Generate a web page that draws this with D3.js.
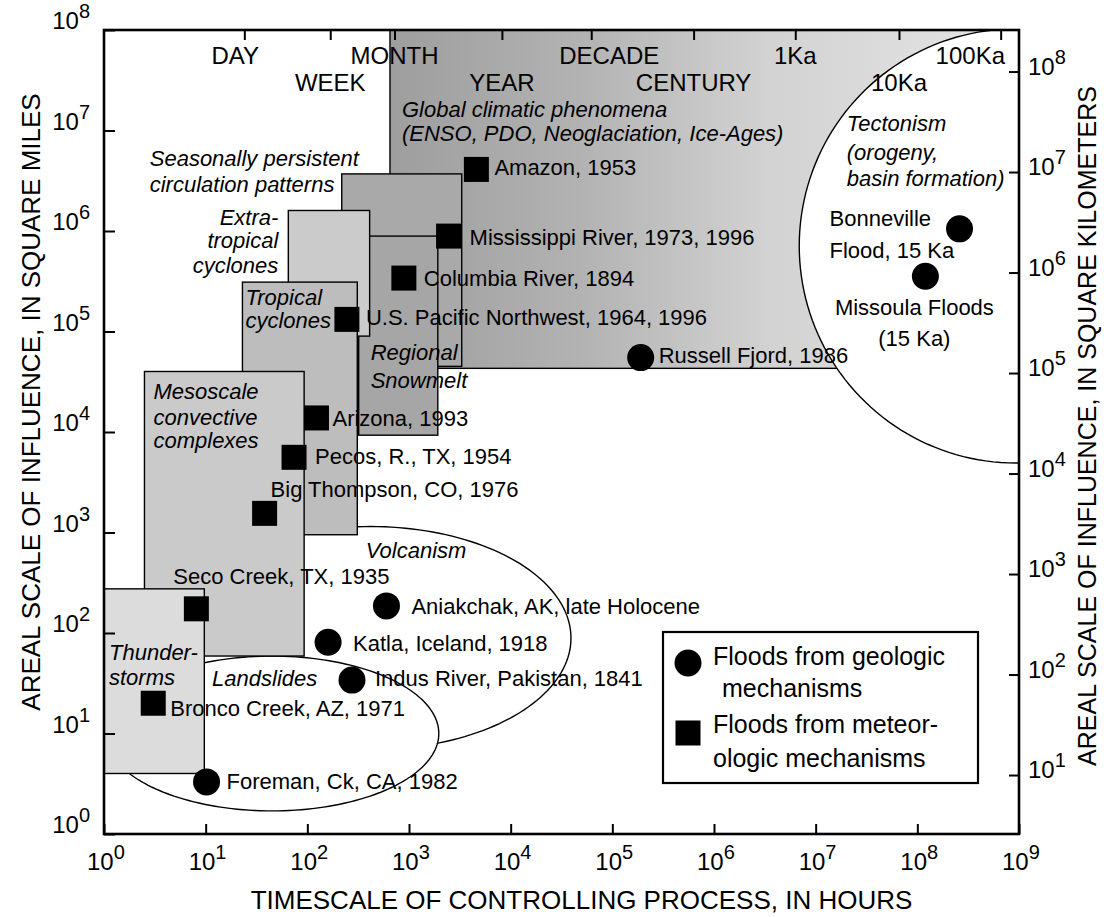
<!DOCTYPE html>
<html>
<head>
<meta charset="utf-8">
<script src="https://cdn.jsdelivr.net/npm/d3@7"></script>
<style>
  body { margin: 0; background: #fff; }
  svg text { font-family: "Liberation Sans", Arial, Helvetica, sans-serif; fill: #000; }
</style>
</head>
<body>
<script>
// ---- data (hours on x, square miles on y) ----
const xExponents = [0, 1, 2, 3, 4, 5, 6, 7, 8, 9];
const yExponents = [0, 1, 2, 3, 4, 5, 6, 7, 8];
const kmExponents = [1, 2, 3, 4, 5, 6, 7, 8];
const SQMI_TO_KM2 = 2.59;

const timeLabels = ["DAY", "WEEK", "MONTH", "YEAR", "DECADE", "CENTURY", "1Ka", "10Ka", "100Ka"];
const timeHours = [24, 168, 720, 8200, 62000, 630000, 6.3e6, 6.6e7, 6.6e8];

const meteoNames = ["Amazon, 1953", "Mississippi River, 1973, 1996", "Columbia River, 1894",
  "U.S. Pacific Northwest, 1964, 1996", "Arizona, 1993", "Pecos, R., TX, 1954",
  "Big Thompson, CO, 1976", "Seco Creek, TX, 1935", "Bronco Creek, AZ, 1971"];
const meteoHours = [4600, 2450, 890, 245, 123, 74, 38, 8.1, 3.05];
const meteoArea = [4.1e6, 890000, 340000, 132000, 13800, 5600, 1550, 174, 20];

const geoNames = ["Bonneville Flood, 15 Ka", "Missoula Floods (15 Ka)", "Russell Fjord, 1986",
  "Aniakchak, AK, late Holocene", "Katla, Iceland, 1918", "Indus River, Pakistan, 1841",
  "Foreman, Ck, CA, 1982"];
const geoHours = [2.6e8, 1.2e8, 190000, 600, 160, 275, 10.2];
const geoArea = [1.05e6, 355000, 55000, 186, 81, 34, 3.3];

const regionNames = ["global", "seasonal", "snowmelt", "extratropical", "tropical", "mesoscale", "thunder"];
const regionHoursFrom = [650, 218, 320, 65, 23, 2.5, 1];
const regionHoursTo = [1e9, 3300, 1920, 410, 310, 93, 9.7];
const regionAreaFrom = [43000, 45000, 9300, 90000, 950, 59, 4];
const regionAreaTo = [1e8, 3.7e6, 890000, 1.6e6, 310000, 40000, 275];
const regionText = [
  ["Global climatic phenomena", "(ENSO, PDO, Neoglaciation, Ice-Ages)"],
  ["Seasonally persistent", "circulation patterns"],
  ["Regional", "Snowmelt"],
  ["Extra-", "tropical", "cyclones"],
  ["Tropical", "cyclones"],
  ["Mesoscale", "convective", "complexes"],
  ["Thunder-", "storms"]
];

// ellipses in log space: centre (hours, sq mi), half-widths in decades
const zoneNames = ["tectonism", "volcanism", "landslides"];
const zoneHours = [9.3e8, 420, 45];
const zoneArea = [7.1e5, 89, 10];
const zoneDecX = [2.13, 1.97, 1.64];
const zoneDecY = [2.16, 1.11, 0.77];
const zoneText = [["Tectonism", "(orogeny,", "basin formation)"], ["Volcanism"], ["Landslides"]];

// ---- layout ----
const W = 1104, H = 917;
const P = { left: 104, right: 1019, top: 30, bottom: 834 };

const svg = d3.select("body").append("svg").attr("width", W).attr("height", H);

const x = d3.scaleLog().domain([1, 1e9]).range([P.left, P.right]);
const y = d3.scaleLog().domain([1, 1e8]).range([P.bottom, P.top]);
const yKm = d3.scaleLog().domain([SQMI_TO_KM2, 1e8 * SQMI_TO_KM2]).range([P.bottom, P.top]);

const defs = svg.append("defs");
defs.append("clipPath").attr("id", "plotClip").append("rect")
  .attr("x", P.left).attr("y", P.top).attr("width", P.right - P.left).attr("height", P.bottom - P.top);

const grad = defs.append("linearGradient").attr("id", "globalGrad")
  .attr("gradientUnits", "userSpaceOnUse")
  .attr("x1", x(650)).attr("x2", x(1e9)).attr("y1", 0).attr("y2", 0);
[[0, "#9e9e9e"], [0.3, "#b2b2b2"], [0.6, "#d2d2d2"], [1, "#e6e6e6"]].forEach(s =>
  grad.append("stop").attr("offset", s[0]).attr("stop-color", s[1]));

const regionFill = {
  global: "url(#globalGrad)", seasonal: "#a9a9a9", snowmelt: "#a6a6a6", extratropical: "#cbcbcb",
  tropical: "#bdbdbd", mesoscale: "#cacaca", thunder: "#dcdcdc"
};

const plot = svg.append("g").attr("clip-path", "url(#plotClip)");

function ellipsePath(i) {
  const cx = Math.log10(zoneHours[i]), cy = Math.log10(zoneArea[i]);
  const pts = d3.range(0, 360, 2).map(a => {
    const t = a * Math.PI / 180;
    return [x(Math.pow(10, cx + zoneDecX[i] * Math.cos(t))), y(Math.pow(10, cy + zoneDecY[i] * Math.sin(t)))];
  });
  return d3.line()(pts) + "Z";
}

function drawRegion(i) {
  plot.append("rect")
    .attr("x", x(regionHoursFrom[i]))
    .attr("y", y(regionAreaTo[i]))
    .attr("width", x(regionHoursTo[i]) - x(regionHoursFrom[i]))
    .attr("height", y(regionAreaFrom[i]) - y(regionAreaTo[i]))
    .attr("fill", regionFill[regionNames[i]])
    .attr("stroke", "#000").attr("stroke-width", 1.4);
}

// global shading first, then the white-filled process zones, then the stacked boxes
drawRegion(0);
zoneNames.forEach((n, i) => {
  plot.append("path").attr("d", ellipsePath(i))
    .attr("fill", "#fff").attr("stroke", "#000").attr("stroke-width", 1.4);
});
[1, 2, 3, 4, 5, 6].forEach(drawRegion);

// region captions, placed from each box's top-left corner
const regionPlace = {
  global: { dx: 12, dy: [87, 111], anchor: "start" },
  seasonal: { dx: -192, dy: [-8, 18], anchor: "start" },
  snowmelt: { dx: 12, dy: [124, 152], anchor: "start" },
  extratropical: { dx: -10, dy: [15, 38, 63], anchor: "end" },
  tropical: { dx: 3, dy: [23, 46], anchor: "start" },
  mesoscale: { dx: 9, dy: [28, 54, 77], anchor: "start" },
  thunder: { dx: 5, dy: [71, 96], anchor: "start" }
};
const labels = svg.append("g");
regionNames.forEach((n, i) => {
  const pl = regionPlace[n];
  regionText[i].forEach((line, k) => {
    labels.append("text")
      .attr("x", x(regionHoursFrom[i]) + pl.dx)
      .attr("y", y(regionAreaTo[i]) + pl.dy[k])
      .attr("text-anchor", pl.anchor)
      .attr("font-size", 22).attr("font-style", "italic")
      .text(line);
  });
});

const zonePlace = {
  tectonism: { dx: -169, dy: [-115, -86, -60] },
  volcanism: { dx: -5, dy: [-80] },
  landslides: { dx: -60, dy: [-48] }
};
zoneNames.forEach((n, i) => {
  const pl = zonePlace[n];
  zoneText[i].forEach((line, k) => {
    labels.append("text")
      .attr("x", x(zoneHours[i]) + pl.dx)
      .attr("y", y(zoneArea[i]) + pl.dy[k])
      .attr("font-size", 22).attr("font-style", "italic")
      .text(line);
  });
});

// ---- flood markers ----
const SQ = 25, R = 13.5;
const marks = svg.append("g");
marks.selectAll("rect.meteo").data(meteoNames).join("rect")
  .attr("class", "meteo")
  .attr("x", (d, i) => x(meteoHours[i]) - SQ / 2)
  .attr("y", (d, i) => y(meteoArea[i]) - SQ / 2)
  .attr("width", SQ).attr("height", SQ).attr("fill", "#000");

marks.selectAll("circle.geo").data(geoNames).join("circle")
  .attr("class", "geo")
  .attr("cx", (d, i) => x(geoHours[i]))
  .attr("cy", (d, i) => y(geoArea[i]))
  .attr("r", R).attr("fill", "#000");

// label offsets from the marker centre
const markPlace = {
  "Amazon, 1953": [18, 6],
  "Mississippi River, 1973, 1996": [21, 9],
  "Columbia River, 1894": [20, 8],
  "U.S. Pacific Northwest, 1964, 1996": [19, 6],
  "Arizona, 1993": [16, 8],
  "Pecos, R., TX, 1954": [21, 7],
  "Big Thompson, CO, 1976": [6, -16],
  "Seco Creek, TX, 1935": [-23, -25],
  "Bronco Creek, AZ, 1971": [17, 13],
  "Russell Fjord, 1986": [18, 5],
  "Aniakchak, AK, late Holocene": [25, 8],
  "Katla, Iceland, 1918": [25, 9],
  "Indus River, Pakistan, 1841": [23, 6],
  "Foreman, Ck, CA, 1982": [20, 7]
};
function markLabel(name, px, py) {
  if (name.startsWith("Bonneville")) {
    [["Bonneville", -3], ["Flood, 15 Ka", 29]].forEach(l =>
      marks.append("text").attr("x", px - 130).attr("y", py + l[1]).attr("font-size", 22).text(l[0]));
    return;
  }
  if (name.startsWith("Missoula")) {
    [["Missoula Floods", 39], ["(15 Ka)", 70]].forEach(l =>
      marks.append("text").attr("x", px - 11).attr("y", py + l[1]).attr("text-anchor", "middle")
        .attr("font-size", 22).text(l[0]));
    return;
  }
  const o = markPlace[name];
  marks.append("text").attr("x", px + o[0]).attr("y", py + o[1]).attr("font-size", 22).text(name);
}
meteoNames.forEach((n, i) => markLabel(n, x(meteoHours[i]), y(meteoArea[i])));
geoNames.forEach((n, i) => markLabel(n, x(geoHours[i]), y(geoArea[i])));

// ---- axes ----
function bare(g) { g.select(".domain").remove(); g.selectAll(".tick line").attr("stroke-width", 2); }

svg.append("g").attr("transform", `translate(0,${P.bottom})`)
  .call(d3.axisBottom(x).tickValues(xExponents.map(e => Math.pow(10, e))).tickSize(-10).tickFormat(""))
  .call(bare);
svg.append("g").attr("transform", `translate(${P.left},0)`)
  .call(d3.axisLeft(y).tickValues(yExponents.map(e => Math.pow(10, e))).tickSize(-11).tickFormat(""))
  .call(bare);
svg.append("g").attr("transform", `translate(${P.right},0)`)
  .call(d3.axisRight(yKm).tickValues(kmExponents.map(e => Math.pow(10, e))).tickSize(-10).tickFormat(""))
  .call(bare);
svg.append("g").attr("transform", `translate(0,${P.top})`)
  .call(d3.axisTop(x).tickValues(timeHours).tickSize(-10).tickFormat(""))
  .call(bare);

function powerText(g, e, px, py, anchor) {
  const t = g.append("text").attr("x", px).attr("y", py).attr("text-anchor", anchor).attr("font-size", 24);
  t.append("tspan").text("10");
  t.append("tspan").attr("font-size", 20).attr("dy", -11).text(e);
}
const tickText = svg.append("g");
xExponents.forEach(e => powerText(tickText, e, x(Math.pow(10, e)) - 17, P.bottom + 36, "start"));
yExponents.forEach(e => powerText(tickText, e, P.left - 14, y(Math.pow(10, e)) - 1, "end"));
kmExponents.forEach(e => powerText(tickText, e, P.right + 9, yKm(Math.pow(10, e)) + 3, "start"));

// time-scale words along the top
timeLabels.forEach((lab, i) => {
  const row = i % 2 === 0 ? 34 : 61;
  let px = x(timeHours[i]), anchor = "middle";
  if (lab === "DAY") px -= 9;
  if (lab === "DECADE") px += 18;
  if (lab === "100Ka") { px = P.right - 14; anchor = "end"; }
  svg.append("text").attr("x", px).attr("y", P.top + row)
    .attr("text-anchor", anchor).attr("font-size", 24).text(lab);
});

// frame
svg.append("rect").attr("x", P.left).attr("y", P.top)
  .attr("width", P.right - P.left).attr("height", P.bottom - P.top)
  .attr("fill", "none").attr("stroke", "#000").attr("stroke-width", 2.6);

// axis titles
svg.append("text").attr("x", (P.left + P.right) / 2 + 20).attr("y", 909)
  .attr("text-anchor", "middle").attr("font-size", 26)
  .text("TIMESCALE OF CONTROLLING PROCESS, IN HOURS");
svg.append("text").attr("transform", "translate(40,402) rotate(-90)")
  .attr("text-anchor", "middle").attr("font-size", 26)
  .text("AREAL SCALE OF INFLUENCE, IN SQUARE MILES");
svg.append("text").attr("transform", "translate(1096,426) rotate(-90)")
  .attr("text-anchor", "middle").attr("font-size", 25)
  .text("AREAL SCALE OF INFLUENCE, IN SQUARE KILOMETERS");

// ---- legend ----
const lg = svg.append("g").attr("transform", "translate(663,632)");
lg.append("rect").attr("width", 315).attr("height", 151)
  .attr("fill", "#fff").attr("stroke", "#000").attr("stroke-width", 2.2);
lg.append("circle").attr("cx", 25).attr("cy", 31).attr("r", R).attr("fill", "#000");
lg.append("rect").attr("x", 25 - SQ / 2).attr("y", 101 - SQ / 2).attr("width", SQ).attr("height", SQ).attr("fill", "#000");
[["Floods from geologic", 50, 33], ["mechanisms", 59, 65], ["Floods from meteor-", 50, 101], ["ologic mechanisms", 50, 135]]
  .forEach(l => lg.append("text").attr("x", l[1]).attr("y", l[2]).attr("font-size", 25).text(l[0]));
</script>
</body>
</html>
